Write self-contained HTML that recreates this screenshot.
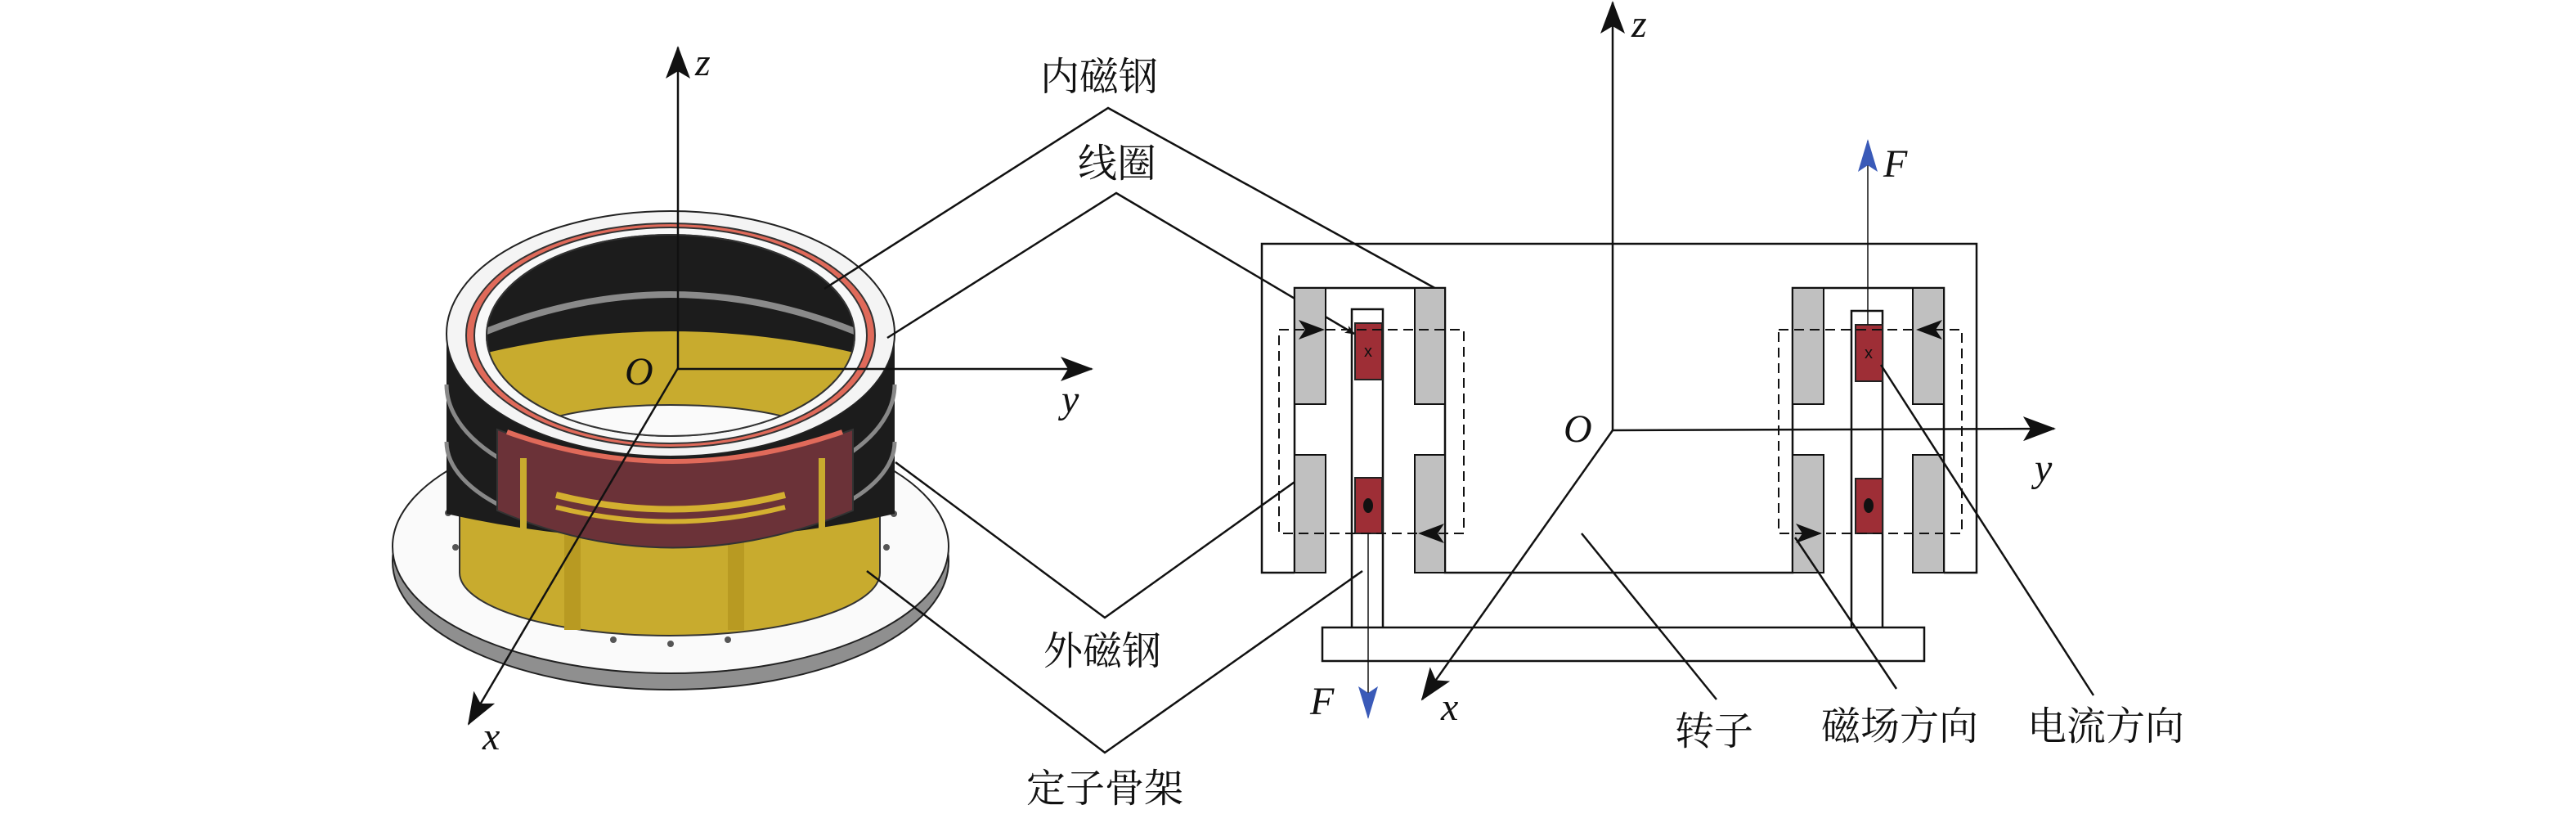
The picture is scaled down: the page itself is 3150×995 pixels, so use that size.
<!DOCTYPE html>
<html><head><meta charset="utf-8"><style>
html,body{margin:0;padding:0;background:#fff}
svg{display:block}
.cn{font-family:"Liberation Serif","Noto Serif CJK SC","Noto Sans CJK SC",serif;font-size:48px;fill:#111}
.it{font-family:"Liberation Serif",serif;font-style:italic;font-size:48px;fill:#111}
</style></head><body>
<svg width="3150" height="995" viewBox="0 0 3150 995" xmlns="http://www.w3.org/2000/svg">
<defs>
<marker id="ah" markerWidth="12" markerHeight="10" refX="11" refY="5" orient="auto" markerUnits="userSpaceOnUse" viewBox="0 0 12 10">
<path d="M0,0 L12,5 L0,10 L3,5 z" fill="#111"/></marker>
<marker id="ab" markerWidth="40" markerHeight="30" refX="38" refY="15" orient="auto" markerUnits="userSpaceOnUse">
<path d="M0,0 L40,15 L0,30 L9,15 z" fill="#111"/></marker>
<marker id="abl" markerWidth="40" markerHeight="24" refX="38" refY="12" orient="auto" markerUnits="userSpaceOnUse">
<path d="M0,0 L40,12 L0,24 L8,12 z" fill="#3a5ab8"/></marker>
<clipPath id="open"><ellipse cx="820" cy="410" rx="225" ry="123"/></clipPath>
</defs>
<rect width="3150" height="995" fill="#fff"/>

<!-- ===== LEFT 3D MODEL ===== -->
<ellipse cx="820" cy="686" rx="340" ry="157" fill="#8f8f8f" stroke="#222" stroke-width="2"/>
<ellipse cx="820" cy="668" rx="340" ry="155" fill="#fafafa" stroke="#222" stroke-width="2"/>
<g fill="#555">
<circle cx="548" cy="627" r="4"/><circle cx="557" cy="669" r="4"/><circle cx="1093" cy="628" r="4"/><circle cx="1084" cy="669" r="4"/>
<circle cx="750" cy="782" r="4"/><circle cx="820" cy="787" r="4"/><circle cx="890" cy="782" r="4"/><circle cx="990" cy="750" r="4"/><circle cx="1030" cy="720" r="4"/><circle cx="650" cy="750" r="4"/>
</g>
<path d="M562,560 L562,700 A257,77 0 0 0 1076,700 L1076,560 z" fill="#c8ab2e" stroke="#333" stroke-width="2"/>
<path d="M700,560 L700,770 M900,560 L900,770" stroke="#b89a22" stroke-width="20"/>
<path d="M546,408 L546,628 Q820,690 1094,628 L1094,408 z" fill="#1c1c1c"/>
<path d="M546,470 A274,140 0 0 0 1094,470" fill="none" stroke="#888" stroke-width="5"/>
<path d="M546,540 A274,120 0 0 0 1094,540" fill="none" stroke="#888" stroke-width="5"/>
<path d="M608,525 Q820,605 1043,525 L1043,624 Q820,715 608,624 z" fill="#6b3238" stroke="#333" stroke-width="2"/>
<path d="M620,528 Q820,600 1030,528" fill="none" stroke="#e06a5a" stroke-width="6"/>
<path d="M680,605 Q820,640 960,605" fill="none" stroke="#d4b030" stroke-width="8"/>
<path d="M680,620 Q820,655 960,620" fill="none" stroke="#d4b030" stroke-width="6"/>
<path d="M640,560 L640,650 M1005,560 L1005,650" stroke="#c8ab2e" stroke-width="8"/>
<ellipse cx="820" cy="408" rx="274" ry="150" fill="#f4f4f4" stroke="#222" stroke-width="2"/>
<ellipse cx="820" cy="410" rx="250" ry="137" fill="#e06a5a" stroke="#333" stroke-width="2"/>
<ellipse cx="820" cy="410" rx="240" ry="132" fill="#f8f8f8" stroke="#333" stroke-width="2"/>
<ellipse cx="820" cy="410" rx="225" ry="123" fill="#1c1c1c" stroke="#333" stroke-width="2"/>
<g clip-path="url(#open)">
<path d="M560,420 Q820,300 1080,420" fill="none" stroke="#8a8a8a" stroke-width="8"/>
<rect x="560" y="440" width="520" height="120" fill="#c8ab2e"/>
<path d="M560,440 Q820,370 1080,440" fill="#c8ab2e"/>
<ellipse cx="820" cy="540" rx="190" ry="45" fill="#fafafa" stroke="#333" stroke-width="2"/>
</g>
<ellipse cx="820" cy="410" rx="225" ry="123" fill="none" stroke="#333" stroke-width="2"/>

<!-- left axes -->
<line x1="829" y1="450" x2="829" y2="58" stroke="#111" stroke-width="2.5" marker-end="url(#ab)"/>
<line x1="829" y1="451" x2="1335" y2="451" stroke="#111" stroke-width="2.5" marker-end="url(#ab)"/>
<line x1="829" y1="450" x2="573" y2="885" stroke="#111" stroke-width="2.5" marker-end="url(#ab)"/>
<text class="it" x="850" y="92">z</text>
<text class="it" x="764" y="470">O</text>
<text class="it" x="1298" y="504">y</text>
<text class="it" x="590" y="916">x</text>

<!-- leader lines -->
<g stroke="#111" stroke-width="2.5" fill="none">
<polyline points="1008,353 1355,132 1758,354"/>
<polyline points="1085,413 1365,236 1656,408" marker-end="url(#ah)"/>
<polyline points="1095,565 1351,755 1621,562"/>
<polyline points="1060,698 1351,920 1666,698"/>
</g>
<text class="cn" x="1344" y="110" text-anchor="middle">内磁钢</text>
<text class="cn" x="1366" y="216" text-anchor="middle">线圈</text>
<text class="cn" x="1348" y="812" text-anchor="middle">外磁钢</text>
<text class="cn" x="1351" y="980" text-anchor="middle">定子骨架</text>

<!-- ===== RIGHT SCHEMATIC ===== -->
<g stroke="#111" stroke-width="2.5" fill="none">
<polyline points="1583,700 1543,700 1543,298 2417,298 2417,700 2377,700"/>
<polyline points="1583,700 1583,352 1767,352 1767,700 2192,700 2192,352 2377,352 2377,700"/>
</g>
<g fill="#c0c0c0" stroke="#111" stroke-width="2">
<rect x="1583" y="352" width="38" height="142"/><rect x="1583" y="556" width="38" height="144"/>
<rect x="1730" y="352" width="37" height="142"/><rect x="1730" y="556" width="37" height="144"/>
<rect x="2192" y="352" width="38" height="142"/><rect x="2192" y="556" width="38" height="144"/>
<rect x="2339" y="352" width="38" height="142"/><rect x="2339" y="556" width="38" height="144"/>
</g>
<g stroke="#111" stroke-width="2.5" fill="none">
<polyline points="1653,767 1653,378 1691,378 1691,767"/>
<polyline points="2264,767 2264,380 2302,380 2302,767"/>
<rect x="1617" y="767" width="736" height="41" fill="#fff"/>
</g>
<g fill="#9e2e36" stroke="#222" stroke-width="2">
<rect x="1657" y="395" width="33" height="69"/><rect x="1657" y="584" width="33" height="68"/>
<rect x="2269" y="397" width="33" height="69"/><rect x="2269" y="585" width="33" height="67"/>
</g>
<text x="1673" y="436" font-family="Liberation Sans,sans-serif" font-size="20" text-anchor="middle" fill="#111">x</text>
<text x="2285" y="438" font-family="Liberation Sans,sans-serif" font-size="20" text-anchor="middle" fill="#111">x</text>
<ellipse cx="1673" cy="618" rx="6" ry="9" fill="#111"/>
<ellipse cx="2285" cy="618" rx="6" ry="9" fill="#111"/>
<g stroke="#111" stroke-width="2" stroke-dasharray="12,7" fill="none">
<rect x="1564" y="403" width="226" height="249"/>
<rect x="2175" y="403" width="224" height="249"/>
</g>
<g fill="#111">
<path d="M1620,403 L1588,391 L1596,403 L1588,415 z"/>
<path d="M1734,652 L1766,640 L1758,652 L1766,664 z"/>
<path d="M2343,403 L2375,391 L2367,403 L2375,415 z"/>
<path d="M2228,652 L2196,640 L2204,652 L2196,664 z"/>
</g>
<line x1="1673" y1="652" x2="1673" y2="877" stroke="#111" stroke-width="1.5" marker-end="url(#abl)"/>
<line x1="2284" y1="397" x2="2284" y2="172" stroke="#111" stroke-width="1.5" marker-end="url(#abl)"/>
<text class="it" x="1602" y="873">F</text>
<text class="it" x="2303" y="216">F</text>
<line x1="1972" y1="526" x2="1972" y2="3" stroke="#111" stroke-width="2.5" marker-end="url(#ab)"/>
<line x1="1972" y1="526" x2="2512" y2="524" stroke="#111" stroke-width="2.5" marker-end="url(#ab)"/>
<line x1="1972" y1="526" x2="1739" y2="855" stroke="#111" stroke-width="2.5" marker-end="url(#ab)"/>
<text class="it" x="1995" y="45">z</text>
<text class="it" x="1912" y="540">O</text>
<text class="it" x="2488" y="588">y</text>
<text class="it" x="1762" y="880">x</text>
<g stroke="#111" stroke-width="2.5" fill="none">
<line x1="1934" y1="652" x2="2099" y2="855"/>
<line x1="2195" y1="657" x2="2319" y2="842"/>
<line x1="2300" y1="446" x2="2560" y2="850"/>
</g>
<text class="cn" x="2096" y="910" text-anchor="middle">转子</text>
<text class="cn" x="2323" y="904" text-anchor="middle">磁场方向</text>
<text class="cn" x="2575" y="904" text-anchor="middle">电流方向</text>
</svg>
</body></html>
